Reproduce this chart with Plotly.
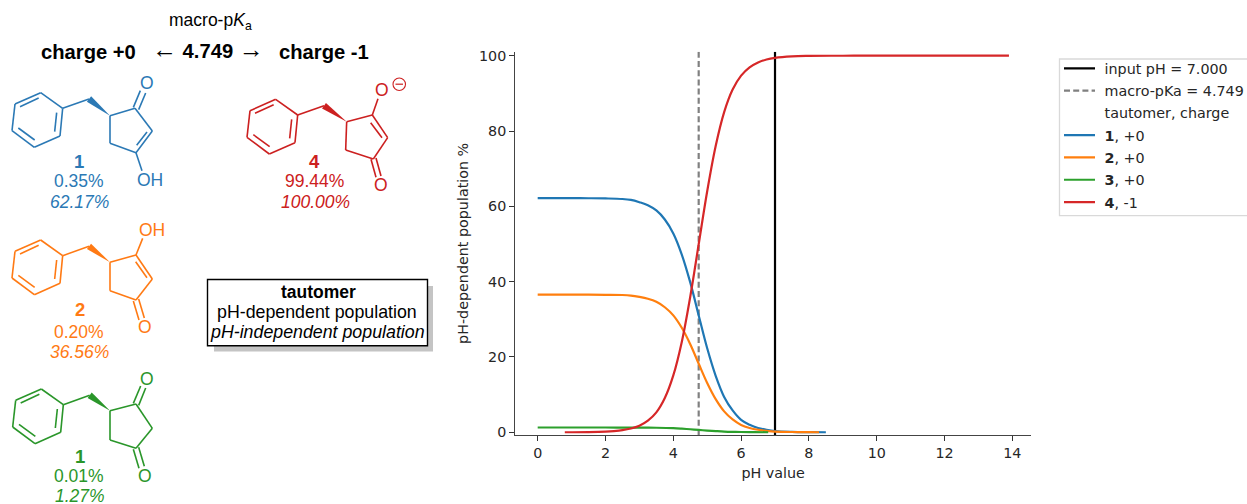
import plotly.graph_objects as go

# ---------- chart data ----------
ph_input = 7.0
macro_pka = 4.749
y_span = [-0.72, 101.06]

ph_1 = [0, 0.5, 1, 1.5, 2, 2.5, 2.75, 3, 3.25, 3.5, 3.75, 4, 4.25, 4.5, 4.75, 5, 5.25, 5.5, 5.75, 6, 6.25, 6.5, 6.75, 7, 7.5, 8, 8.5]
pop_1 = [62.17, 62.17, 62.16, 62.15, 62.1, 61.95, 61.7, 61.1, 60.3, 58.9, 56.5, 52.8, 47.2, 39.8, 31.0, 22.3, 15.0, 9.4, 5.8, 3.3, 2.0, 1.15, 0.68, 0.35, 0.12, 0.04, 0.01]

ph_2 = [0, 0.5, 1, 1.5, 2, 2.5, 2.75, 3, 3.25, 3.5, 3.75, 4, 4.25, 4.5, 4.75, 5, 5.25, 5.5, 5.75, 6, 6.25, 6.5, 6.75, 7, 7.5, 8, 8.3]
pop_2 = [36.56, 36.56, 36.55, 36.53, 36.5, 36.45, 36.3, 35.95, 35.45, 34.65, 33.2, 31.05, 27.75, 23.4, 18.2, 13.1, 8.8, 5.55, 3.4, 1.95, 1.15, 0.67, 0.39, 0.2, 0.07, 0.02, 0.01]

ph_3 = [0, 1, 2, 2.5, 3, 3.5, 4, 4.25, 4.5, 4.75, 5, 5.25, 5.5, 5.75, 6, 6.4, 6.8]
pop_3 = [1.27, 1.27, 1.27, 1.26, 1.25, 1.2, 1.08, 0.96, 0.81, 0.63, 0.45, 0.31, 0.19, 0.12, 0.07, 0.03, 0.01]

ph_4 = [0.8, 1.5, 2, 2.25, 2.5, 2.75, 3, 3.25, 3.5, 3.75, 4, 4.25, 4.5, 4.75, 5, 5.25, 5.5, 5.75, 6, 6.25, 6.5, 6.75, 7, 7.5, 8, 9, 10, 12, 13.9]
pop_4 = [0.01, 0.06, 0.18, 0.32, 0.56, 1.0, 1.75, 3.1, 5.3, 9.1, 15.1, 24.0, 36.0, 50.0, 64.0, 76.0, 85.0, 91.0, 94.7, 96.9, 98.2, 99.0, 99.44, 99.82, 99.94, 99.99, 100, 100, 100]

x_ticks = [0, 2, 4, 6, 8, 10, 12, 14]
y_ticks = [0, 20, 40, 60, 80, 100]

C_BLUE, C_ORANGE, C_GREEN, C_RED = "#1f77b4", "#ff7f0e", "#2ca02c", "#d62728"
M_BLUE, M_ORANGE, M_GREEN, M_RED = "#2b79b5", "#ff7a14", "#2a962a", "#cc2020"

W, H = 1247, 504
SANS = "Liberation Sans, Arial, sans-serif"
DEJA = "DejaVu Sans, sans-serif"
FS = 14.3


def fx(px):
    return px / W


def fy(py):
    return 1 - py / H


fig = go.Figure()
line_w = 2.2


def add_line(xs, ys, name, color, dash="solid"):
    fig.add_trace(go.Scatter(x=xs, y=ys, mode="lines", name=name, legendgroup=name,
                             line=dict(color=color, width=line_w, dash=dash, shape="spline", smoothing=1.0),
                             hoverinfo="skip"))


add_line([ph_input, ph_input], y_span, "&nbsp;input pH = 7.000", "black")
add_line([macro_pka, macro_pka], y_span, "&nbsp;macro-pKa = 4.749", "#808080", "6px,3.2px")
fig.add_trace(go.Scatter(x=[None], y=[None], mode="lines", name="&nbsp;tautomer, charge", legendgroup="hdr",
                         line=dict(color="rgba(0,0,0,0)", width=0)))
add_line(ph_1, pop_1, "&nbsp;<b>1</b>, +0", C_BLUE)
add_line(ph_2, pop_2, "&nbsp;<b>2</b>, +0", C_ORANGE)
add_line(ph_3, pop_3, "&nbsp;<b>3</b>, +0", C_GREEN)
add_line(ph_4, pop_4, "&nbsp;<b>4</b>, -1", C_RED)

shapes = []
annots = []

# legend frame, open at the page's right edge
shapes.append(dict(type="rect", xref="paper", yref="paper", layer="above",
                   x0=fx(1059.5), x1=fx(1255), y0=fy(215.7), y1=fy(59),
                   fillcolor="white", line=dict(color="#d9d9d9", width=1.3)))


def seg(a, b, color, width=1.6):
    shapes.append(dict(type="line", xref="paper", yref="paper", layer="above",
                       x0=fx(a[0]), y0=fy(a[1]), x1=fx(b[0]), y1=fy(b[1]),
                       line=dict(color=color, width=width)))


def poly(points, fill, line_color=None, width=0):
    path = "M " + " L ".join(f"{fx(x):.5f},{fy(y):.5f}" for x, y in points) + " Z"
    shapes.append(dict(type="path", path=path, xref="paper", yref="paper", layer="above",
                       fillcolor=fill, line=dict(color=line_color or fill, width=width)))


def text(px, py, s, size=17.5, color="black", family=SANS, anchor="center"):
    annots.append(dict(x=fx(px), y=fy(py), xref="paper", yref="paper", text=s, showarrow=False,
                       xanchor=anchor, yanchor="middle", font=dict(size=size, color=color, family=family),
                       borderpad=0))


# Coordinates below are in 3x page pixels.
def z(p):
    return (p[0] / 3, p[1] / 3)


def molecule(color, ox, oy, ring, double_ring_inner, extras):
    """Benzyl group + five-membered ring."""
    benz = [(122, 278), (188, 325), (180, 408), (103, 442), (36, 392), (45, 312)]
    inner = [((60, 320), (116, 294)), ((170, 338), (164, 395)), ((55, 384), (104, 420))]
    ch2 = (267, 297)

    def b(p):
        return ((p[0] + ox) / 3, (p[1] + oy) / 3)

    for i in range(6):
        seg(b(benz[i]), b(benz[(i + 1) % 6]), color)
    for p, q in inner:
        seg(b(p), b(q), color)
    seg(b(benz[1]), b(ch2), color)
    r = [z(p) for p in ring]
    wc = b(ch2)
    n = r[0]
    dx, dy = n[0] - wc[0], n[1] - wc[1]
    L = (dx * dx + dy * dy) ** 0.5
    ux, uy = -dy / L * 3.4, dx / L * 3.4
    poly([(wc[0] + ux, wc[1] + uy), (wc[0] - ux, wc[1] - uy), n], color)
    for i in range(5):
        seg(r[i], r[(i + 1) % 5], color)
    if double_ring_inner:
        seg(z(double_ring_inner[0]), z(double_ring_inner[1]), color)
    for a, c in extras:
        seg(z(a), z(c), color)


# blue tautomer
molecule(M_BLUE, 0, 0,
         [(330, 347), (405, 325), (457, 393), (408, 458), (330, 430)],
         ((441, 396), (410, 436)),
         [((400, 322), (421, 272)), ((416, 329), (437, 279)), ((408, 458), (426, 512))])
text(146.5, 83.5, "O", 17.5, M_BLUE)
text(150, 180, "OH", 17.5, M_BLUE)
text(79, 161, "<b>1</b>", 18.5, M_BLUE)
text(79, 181, "0.35%", 17.5, M_BLUE)
text(79.5, 202, "<i>62.17%</i>", 17.5, M_BLUE)

# red tautomer
molecule(M_RED, 705, 20,
         [(1040, 365), (1117, 345), (1163, 413), (1120, 477), (1037, 450)],
         ((1112, 368), (1146, 413)),
         [((1117, 345), (1134, 296)), ((1113, 478), (1128, 532)), ((1128, 474), (1143, 528))])
text(382, 89.5, "O", 17.5, M_RED)
text(380.5, 185, "O", 17.5, M_RED)
shapes.append(dict(type="circle", xref="paper", yref="paper", layer="above",
                   x0=fx(393), x1=fx(405.5), y0=fy(78), y1=fy(90.5),
                   line=dict(color=M_RED, width=1.1)))
seg((395.5, 84.2), (403, 84.2), M_RED, 1.2)
text(314.5, 161, "<b>4</b>", 18.5, M_RED)
text(314.5, 181, "99.44%", 17.5, M_RED)
text(315, 202, "<i>100.00%</i>", 17.5, M_RED)

# orange tautomer
molecule(M_ORANGE, 0, 442,
         [(330, 787), (408, 765), (457, 837), (408, 900), (330, 872)],
         ((407, 785), (441, 833)),
         [((408, 765), (428, 715)), ((400, 903), (417, 960)), ((416, 897), (433, 954))])
text(152, 230, "OH", 17.5, M_ORANGE)
text(144.5, 326.5, "O", 17.5, M_ORANGE)
text(80, 309, "<b>2</b>", 18.5, M_ORANGE)
text(79, 332, "0.20%", 17.5, M_ORANGE)
text(79.5, 352, "<i>36.56%</i>", 17.5, M_ORANGE)

# green tautomer
molecule(M_GREEN, 2, 889,
         [(330, 1232), (408, 1212), (457, 1285), (408, 1345), (330, 1320)],
         None,
         [((400, 1210), (422, 1158)), ((416, 1216), (437, 1164)), ((400, 1348), (417, 1405)), ((416, 1342), (433, 1399))])
text(146.5, 378.5, "O", 17.5, M_GREEN)
text(144.5, 476, "O", 17.5, M_GREEN)
text(80, 456, "<b>1</b>", 18.5, M_GREEN)
text(79, 476, "0.01%", 17.5, M_GREEN)
text(80, 496, "<i>1.27%</i>", 17.5, M_GREEN)

# header
text(210, 22, "macro-p<i>K</i><sub>a</sub>", 17.5)
text(88.5, 52, "<b>charge +0</b>", 20.2)
text(207.7, 49.5, '<span style="font-size:25px">←</span> <b>4.749</b> <span style="font-size:25px">→</span>', 20.2)
text(324, 52, "<b>charge -1</b>", 20.2)

# note box
shapes.append(dict(type="rect", xref="paper", yref="paper", layer="above", x0=fx(214), x1=fx(433), y0=fy(351.5), y1=fy(286),
                   fillcolor="#c4c4c4", line=dict(width=0)))
shapes.append(dict(type="rect", xref="paper", yref="paper", layer="above", x0=fx(207.5), x1=fx(427.5), y0=fy(345.7), y1=fy(279.5),
                   fillcolor="white", line=dict(color="black", width=1.4)))
text(318, 291.5, "<b>tautomer</b>", 17.5)
text(317.5, 311.5, "pH-dependent population", 17.8)
text(317.5, 331.5, "<i>pH-independent population</i>", 17.8)

fig.update_layout(
    width=W, height=H, margin=dict(l=0, r=0, t=0, b=0, autoexpand=False),
    paper_bgcolor="white", plot_bgcolor="white", font=dict(family=DEJA, size=FS, color="#262626"),
    shapes=shapes, annotations=annots, hovermode=False,
    legend=dict(x=fx(1059), y=fy(52.5), xanchor="left", yanchor="top", xref="paper", yref="paper",
                bgcolor="rgba(0,0,0,0)", borderwidth=0,
                font=dict(family=DEJA, size=FS, color="#262626"), tracegroupgap=0.7,
                itemwidth=31),
    xaxis=dict(domain=[fx(515.3), fx(1031)], range=[-0.66, 14.55], tickvals=x_ticks, ticks="outside", ticklen=5,
               tickwidth=1.2, tickcolor="#333", tickfont=dict(size=FS), showgrid=False, zeroline=False, showline=True,
               linecolor="#444", linewidth=1.4, title=dict(text="pH value", standoff=7, font=dict(size=FS)), anchor="y"),
    yaxis=dict(domain=[1 - 435 / H, 1 - 51.7 / H], range=y_span, tickvals=y_ticks, ticks="outside", ticklen=5,
               tickwidth=1.2, tickcolor="#333", tickfont=dict(size=FS), showgrid=False, zeroline=False, showline=True,
               linecolor="#444", linewidth=1.4, title=dict(text="pH-dependent population %", standoff=6, font=dict(size=FS)), anchor="x"),
)

fig.write_html("out.html", config=dict(displayModeBar=False),
               post_script="document.body.style.margin='0';document.body.style.overflow='hidden';")
